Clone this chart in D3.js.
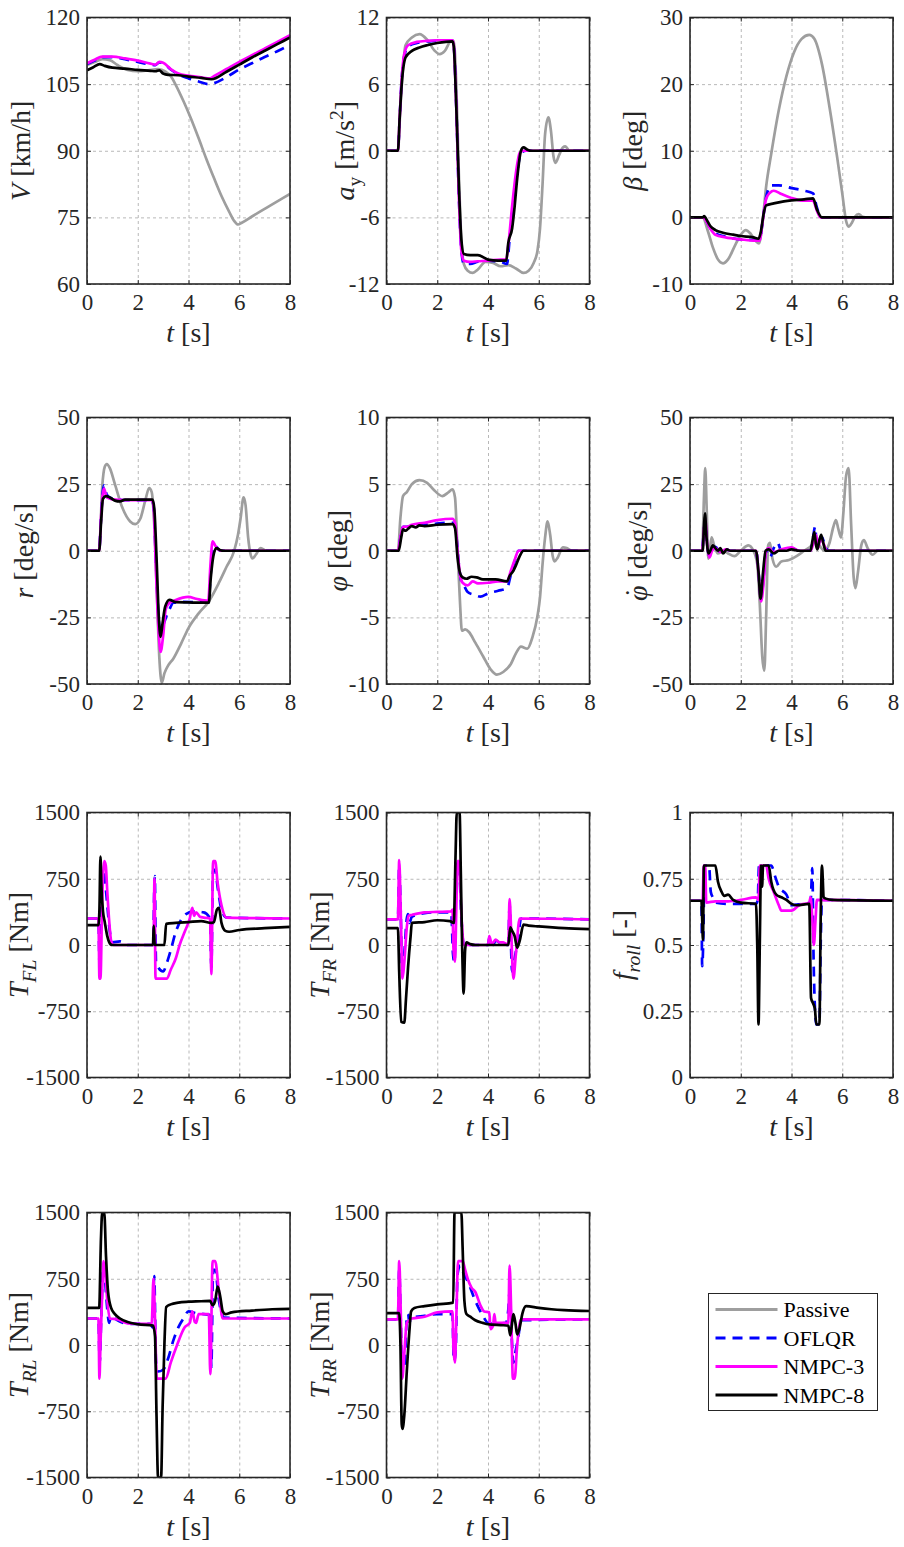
<!DOCTYPE html>
<html>
<head>
<meta charset="utf-8">
<script src="https://cdn.jsdelivr.net/npm/d3@7"></script>
<style>
body { margin: 0; background: #fff; }
svg { display: block; font-family: "Liberation Serif", "Times New Roman", serif; }
.grid line { stroke: #b8b8b8; stroke-dasharray: 3,3; stroke-width: 1; }
.grid path { display: none; }
.axis path { display: none; }
.axis line { stroke: #262626; stroke-width: 1; }
.axis text { font-size: 23px; fill: #262626; font-family: "Liberation Serif", serif; }
.line { fill: none; stroke-width: 2.7; stroke-linejoin: round; }
</style>
</head>
<body>
<div id="chart"></div>
<script>
// time axis
var tTicks = [0, 2, 4, 6, 8];

// V [km/h]
var vTicks = [60, 75, 90, 105, 120];
var vPassive = [[0,109.3],[0.3,110],[0.6,110.6],[0.9,110.4],[1.2,109.3],[1.6,108.2],[2.0,107.9],[2.4,108.1],[2.8,108.4],[3.1,107.8],[3.3,106.8],[3.5,104.8],[3.8,101.2],[4.1,97.2],[4.4,92.8],[4.7,88.2],[5.0,83.9],[5.3,79.8],[5.6,76.3],[5.8,74.2],[5.95,73.4],[6.1,73.8],[6.5,75.2],[7.0,76.9],[7.5,78.6],[8,80.3]];
var vOflqr = [[0,109.5],[0.3,110.3],[0.6,111.1],[1.0,111.1],[1.5,110.6],[2.0,110.0],[2.5,109.4],[2.7,109.3],[2.85,109.9],[3.0,109.7],[3.3,108.3],[3.6,107.2],[4.0,106.3],[4.4,105.6],[4.8,105.0],[5.0,105.2],[5.5,106.6],[6.0,108.3],[6.5,109.7],[7.0,111.1],[7.5,112.4],[8,113.8]];
var vNmpc3 = [[0,109.7],[0.3,110.5],[0.6,111.2],[1.0,111.2],[1.5,110.8],[2.0,110.3],[2.5,109.6],[2.7,109.4],[2.85,110.0],[3.0,109.8],[3.3,108.4],[3.6,107.4],[4.0,106.9],[4.5,106.5],[4.85,106.3],[5.0,106.8],[5.5,108.4],[6.0,110.0],[6.5,111.5],[7.0,113.0],[7.5,114.5],[8,116.0]];
var vNmpc8 = [[0,108.1],[0.25,108.8],[0.5,109.5],[0.7,109.1],[1.0,108.7],[1.5,108.5],[2.0,108.2],[2.5,108.0],[2.7,107.9],[2.85,108.1],[3.0,107.4],[3.2,107.1],[3.6,107.0],[4.0,106.7],[4.5,106.4],[4.9,106.1],[5.5,107.8],[6.0,109.4],[6.5,111.0],[7.0,112.5],[7.5,114.0],[8,115.5]];

// a_y [m/s^2]
var ayTicks = [-12, -6, 0, 6, 12];
var ayPassive = [[0,0],[0.45,0],[0.55,4],[0.65,7.5],[0.75,9.5],[1.0,10.2],[1.3,10.5],[1.6,10.0],[1.9,9.0],[2.1,8.7],[2.3,9.0],[2.55,9.9],[2.65,9.9],[2.75,6],[2.85,-2],[2.95,-8],[3.05,-10.2],[3.2,-10.8],[3.4,-11.0],[3.6,-10.7],[3.9,-10.0],[4.2,-10.1],[4.5,-10.4],[4.8,-10.3],[5.1,-10.6],[5.4,-11.0],[5.6,-10.8],[5.8,-10.1],[5.95,-9.0],[6.05,-7],[6.15,-3],[6.25,1.5],[6.38,3.0],[6.48,1.8],[6.58,-0.5],[6.66,-1.1],[6.8,-0.4],[6.95,0.3],[7.05,0.4],[7.2,0],[8,0]];
var ayOflqr = [[0,0],[0.45,0],[0.52,3],[0.6,6.5],[0.7,8.5],[0.85,9.4],[1.2,9.7],[1.6,9.85],[2.0,9.9],[2.6,9.9],[2.65,9.5],[2.75,4],[2.85,-4],[2.95,-9],[3.05,-10.2],[3.3,-10.2],[3.6,-10.0],[4.0,-9.9],[4.5,-10.0],[4.75,-10.2],[4.85,-8],[5.0,-5],[5.15,-2],[5.3,-0.2],[5.5,0],[8,0]];
var ayNmpc3 = [[0,0],[0.45,0],[0.52,3],[0.6,6.5],[0.7,8.7],[0.85,9.5],[1.2,9.8],[1.6,9.9],[2.0,9.95],[2.6,9.95],[2.65,9.5],[2.75,4],[2.85,-4],[2.95,-9],[3.05,-9.9],[3.3,-10.0],[3.6,-9.95],[4.0,-9.9],[4.5,-9.8],[4.72,-9.8],[4.8,-8.5],[4.95,-5],[5.1,-2],[5.25,-0.2],[5.4,0],[8,0]];
var ayNmpc8 = [[0,0],[0.45,0],[0.52,3],[0.6,6],[0.75,8.4],[1.0,9.0],[1.3,9.3],[1.6,9.5],[2.0,9.7],[2.6,9.85],[2.65,9.4],[2.75,4],[2.85,-3],[2.95,-8],[3.05,-9.3],[3.3,-9.4],[3.6,-9.4],[4.0,-9.8],[4.4,-9.9],[4.72,-9.9],[4.8,-8.3],[4.95,-7],[5.05,-5],[5.15,-2.5],[5.3,0],[5.4,0.3],[5.55,0.1],[5.7,0],[8,0]];

// beta [deg]
var betaTicks = [-10, 0, 10, 20, 30];
var betaPassive = [[0,0],[0.5,0],[0.7,-2],[0.9,-4.5],[1.1,-6.3],[1.3,-6.9],[1.5,-6.3],[1.8,-4.0],[2.0,-2.6],[2.2,-1.9],[2.4,-2.5],[2.6,-3.6],[2.72,-3.9],[2.85,-1],[3.0,4.6],[3.2,9.5],[3.5,16.1],[3.8,21.2],[4.1,24.8],[4.4,26.8],[4.7,27.4],[4.9,26.8],[5.2,23.0],[5.5,16.5],[5.8,9.0],[6.0,3.6],[6.15,-0.5],[6.25,-1.4],[6.38,-0.8],[6.5,0.1],[6.65,0.5],[6.8,0.1],[7.0,0],[8,0]];
var betaOflqr = [[0,0],[0.5,0],[0.6,-0.3],[0.8,-1.6],[1.0,-2.4],[1.4,-2.9],[2.0,-3.3],[2.6,-3.4],[2.75,-3.4],[2.85,-1],[3.0,3.0],[3.2,4.8],[3.5,4.8],[4.0,4.4],[4.5,4.0],[4.85,3.6],[5.0,1.5],[5.15,0],[8,0]];
var betaNmpc3 = [[0,0],[0.5,0],[0.6,-0.3],[0.8,-1.7],[1.0,-2.6],[1.4,-3.0],[2.0,-3.3],[2.6,-3.5],[2.75,-3.5],[2.85,-1],[3.0,2.8],[3.15,3.7],[3.3,4.0],[3.6,3.5],[4.0,2.9],[4.5,2.5],[4.85,2.5],[5.0,1.0],[5.15,0],[8,0]];
var betaNmpc8 = [[0,0],[0.5,0],[0.56,0.2],[0.65,-0.3],[0.8,-1.3],[1.0,-1.9],[1.3,-2.3],[1.7,-2.6],[2.0,-2.8],[2.5,-3.0],[2.7,-3.2],[2.8,-2.0],[2.9,0.5],[3.0,1.8],[3.3,2.1],[3.7,2.4],[4.0,2.55],[4.5,2.7],[4.85,2.85],[5.0,1.2],[5.2,0],[8,0]];

// r [deg/s]
var rTicks = [-50, -25, 0, 25, 50];
var rPassive = [[0,0],[0.48,0],[0.6,24],[0.7,31.5],[0.78,32.5],[0.9,31],[1.1,25],[1.4,16],[1.7,11],[1.9,10],[2.1,12],[2.3,19],[2.45,23.5],[2.55,22],[2.65,10],[2.75,-15],[2.85,-40],[2.95,-49.5],[3.05,-46],[3.2,-43],[3.4,-40.5],[3.7,-35],[4.0,-29],[4.4,-23.5],[4.8,-19],[5.2,-12],[5.5,-6],[5.8,0],[5.95,6],[6.05,12],[6.17,20],[6.25,17],[6.35,5],[6.45,-1.5],[6.52,-2.9],[6.65,-1.5],[6.85,1],[7.05,0],[8,0]];
var rOflqr = [[0,0],[0.48,0],[0.55,12],[0.62,22],[0.67,24.5],[0.78,21],[1.0,19.5],[1.5,19],[2.0,19],[2.55,19],[2.62,17],[2.72,-5],[2.82,-25],[2.9,-30],[3.0,-28],[3.15,-24],[3.25,-22],[3.4,-19.5],[3.8,-19.2],[4.3,-19.3],[4.78,-19.5],[4.88,-8],[4.97,1.5],[5.1,1.5],[5.2,0.3],[5.35,0],[8,0]];
var rNmpc3 = [[0,0],[0.48,0],[0.55,12],[0.62,21],[0.67,23.3],[0.78,20],[1.0,19.3],[1.5,19],[2.0,19],[2.55,19],[2.62,17],[2.72,-8],[2.82,-30],[2.9,-38],[3.0,-32],[3.1,-22],[3.2,-20],[3.5,-18.5],[4.0,-17.3],[4.3,-18],[4.78,-18.8],[4.86,-6],[4.95,3.5],[5.05,2],[5.2,0.3],[5.35,0],[8,0]];
var rNmpc8 = [[0,0],[0.48,0],[0.55,10],[0.63,19.5],[0.75,20.5],[0.9,20],[1.1,18.8],[1.3,18.5],[1.5,19.2],[2.0,19.2],[2.58,19.2],[2.65,16],[2.75,-5],[2.83,-25],[2.9,-32.3],[2.98,-27],[3.08,-21],[3.25,-18.4],[3.5,-19.3],[4.0,-19.4],[4.5,-19.5],[4.8,-19.5],[4.88,-10],[4.98,-2],[5.1,1],[5.25,0.2],[5.4,0],[8,0]];

// phi [deg]
var phiTicks = [-10, -5, 0, 5, 10];
var phiPassive = [[0,0],[0.45,0],[0.55,2.5],[0.65,4.1],[0.8,4.4],[1.0,5.0],[1.3,5.3],[1.6,5.1],[1.9,4.5],[2.2,4.1],[2.45,4.4],[2.6,4.6],[2.7,4.0],[2.8,0],[2.9,-4],[2.97,-6],[3.1,-5.9],[3.25,-6.1],[3.5,-6.9],[3.8,-7.9],[4.1,-8.9],[4.35,-9.3],[4.6,-9.1],[4.9,-8.5],[5.1,-7.7],[5.3,-7.2],[5.55,-7.35],[5.75,-6.5],[5.95,-4.9],[6.05,-3.5],[6.15,-1],[6.25,1],[6.35,2.2],[6.45,1.2],[6.55,-0.4],[6.62,-0.8],[6.75,-0.5],[6.95,0.25],[7.1,0.2],[7.3,0],[8,0]];
var phiOflqr = [[0,0],[0.45,0],[0.55,1.0],[0.65,1.8],[0.8,1.8],[1.2,1.9],[1.8,2.0],[2.3,2.1],[2.65,2.1],[2.75,1.2],[2.85,-1],[2.95,-2.3],[3.05,-2.6],[3.2,-3.1],[3.45,-3.3],[3.7,-3.45],[4.0,-3.2],[4.4,-3.0],[4.75,-2.8],[4.9,-1.8],[5.05,-0.8],[5.2,0],[8,0]];
var phiNmpc3 = [[0,0],[0.45,0],[0.55,1.0],[0.65,1.8],[0.8,1.8],[1.0,1.95],[1.5,2.1],[2.0,2.3],[2.6,2.4],[2.7,2.1],[2.8,0],[2.9,-1.8],[3.0,-2.4],[3.2,-2.6],[3.4,-2.3],[3.6,-2.45],[4.0,-2.4],[4.4,-2.3],[4.75,-2.3],[4.9,-1.5],[5.05,-0.7],[5.2,0],[8,0]];
var phiNmpc8 = [[0,0],[0.48,0],[0.58,1.0],[0.65,1.6],[0.75,1.5],[0.85,1.65],[1.0,1.85],[1.15,1.75],[1.3,1.9],[1.5,1.85],[2.0,1.95],[2.6,2.0],[2.7,1.7],[2.8,-0.5],[2.9,-1.7],[3.0,-2.0],[3.15,-2.1],[3.35,-1.95],[3.55,-2.0],[3.8,-2.15],[4.3,-2.15],[4.75,-2.3],[4.85,-1.9],[5.0,-1.5],[5.1,-1.1],[5.25,-0.4],[5.4,0],[8,0]];

// phi dot [deg/s]
var phidTicks = [-50, -25, 0, 25, 50];
var phidPassive = [[0,0],[0.48,0],[0.55,20],[0.6,31],[0.66,15],[0.72,-3],[0.78,0],[0.85,5],[0.95,2],[1.1,-1],[1.3,0],[1.5,-1],[1.75,-2],[2.0,0],[2.3,2],[2.5,0],[2.65,-5],[2.75,-20],[2.85,-40],[2.93,-45],[3.0,-25],[3.08,2],[3.15,3],[3.25,-3],[3.4,-6],[3.6,-4],[3.9,-3.5],[4.2,-2],[4.5,0],[4.8,2],[4.95,4],[5.1,2],[5.3,0],[5.5,3],[5.65,9],[5.75,11.5],[5.85,8],[5.95,5],[6.05,15],[6.15,28],[6.25,31],[6.35,10],[6.45,-10],[6.52,-14],[6.62,-8],[6.75,2],[6.85,4],[7.0,1],[7.2,-1.5],[7.4,0],[8,0]];
var phidOflqr = [[0,0],[0.48,0],[0.55,8],[0.6,11],[0.67,3],[0.75,-2],[0.85,0],[1.0,1.5],[1.2,-0.5],[1.4,0.5],[1.6,0],[2.6,0],[2.7,-8],[2.8,-18],[2.9,-10],[3.0,0],[3.15,-2.5],[3.3,1],[3.45,3],[3.6,0],[4.0,1],[4.3,0],[4.75,0],[4.85,5],[4.93,9],[5.0,2],[5.1,4],[5.2,5],[5.35,1],[5.5,0],[8,0]];
var phidNmpc3 = [[0,0],[0.48,0],[0.55,8],[0.6,12],[0.67,3],[0.77,-2.5],[0.87,0],[1.0,1],[1.2,-0.5],[1.4,0.5],[1.6,0],[2.6,0],[2.7,-8],[2.8,-19],[2.9,-12],[3.0,0],[3.1,1],[3.3,-0.5],[3.6,0.5],[4.0,1.3],[4.3,0],[4.75,0],[4.87,3],[4.97,6],[5.05,1],[5.15,5],[5.25,3],[5.4,0],[8,0]];
var phidNmpc8 = [[0,0],[0.5,0],[0.55,9],[0.59,14],[0.65,5],[0.73,-1],[0.8,0],[0.9,2],[1.0,1],[1.1,0],[1.2,1],[1.3,-1],[1.45,0.5],[1.6,0],[2.6,0],[2.7,-8],[2.78,-18],[2.88,-8],[2.98,0],[3.1,0.5],[3.3,-1],[3.5,0],[3.8,0],[4.0,0.5],[4.3,0],[4.75,0],[4.83,4],[4.9,7],[4.97,2],[5.02,0.5],[5.1,4],[5.17,6],[5.25,3],[5.35,0],[8,0]];

// wheel torques [Nm]
var torqueTicks = [-1500, -750, 0, 750, 1500];
var tflOflqr = [[0,300],[0.45,300],[0.5,-300],[0.55,300],[0.65,850],[0.72,700],[0.8,450],[0.9,150],[1.0,30],[1.3,40],[1.6,0],[2.6,0],[2.67,780],[2.72,-200],[2.8,-250],[3.0,-300],[3.15,-200],[3.3,-60],[3.5,150],[3.7,280],[3.9,350],[4.2,380],[4.6,370],[4.85,300],[4.9,-250],[4.97,850],[5.05,850],[5.15,650],[5.3,400],[5.5,310],[8,300]];
var tflNmpc3 = [[0,300],[0.45,300],[0.49,-380],[0.53,-380],[0.6,500],[0.68,950],[0.74,900],[0.8,600],[0.88,250],[0.95,50],[1.05,0],[2.62,0],[2.66,750],[2.7,-380],[3.15,-380],[3.3,-280],[3.5,-150],[3.65,0],[3.85,150],[4.05,300],[4.15,420],[4.22,330],[4.3,370],[4.45,320],[4.6,310],[4.85,300],[4.9,-330],[4.97,950],[5.05,950],[5.15,700],[5.3,450],[5.5,310],[8,300]];
var tflNmpc8 = [[0,225],[0.45,225],[0.49,400],[0.53,1000],[0.57,650],[0.63,380],[0.7,260],[0.8,100],[0.92,10],[1.0,0],[2.6,0],[2.63,220],[2.67,0],[3.05,0],[3.12,240],[3.5,250],[4.0,260],[4.5,270],[4.9,250],[5.0,260],[5.12,400],[5.2,420],[5.3,250],[5.45,160],[5.6,150],[6.0,170],[7.0,190],[8,205]];

var tfrOflqr = [[0,290],[0.45,290],[0.5,900],[0.55,500],[0.62,-300],[0.7,-100],[0.8,300],[0.85,350],[0.9,250],[1.0,320],[1.5,360],[2.0,370],[2.55,370],[2.62,-100],[2.68,-200],[2.75,800],[2.85,950],[2.95,300],[3.05,0],[4.0,0],[4.05,80],[4.2,0],[4.3,50],[4.5,20],[4.8,0],[4.85,450],[4.95,-300],[5.05,-150],[5.2,100],[5.3,300],[5.5,300],[8,290]];
var tfrNmpc3 = [[0,290],[0.45,290],[0.5,960],[0.56,400],[0.63,-380],[0.7,-200],[0.8,200],[0.87,330],[1.0,340],[1.5,370],[2.0,375],[2.55,380],[2.6,400],[2.64,-50],[2.7,-190],[2.75,400],[2.8,950],[2.86,950],[2.95,350],[3.05,0],[4.0,0],[4.05,100],[4.15,10],[4.3,60],[4.45,30],[4.6,30],[4.8,0],[4.85,520],[4.92,100],[5.0,-380],[5.1,-100],[5.25,300],[8,290]];
var tfrNmpc8 = [[0,190],[0.45,190],[0.5,-300],[0.58,-870],[0.7,-880],[0.77,-600],[0.85,-250],[0.95,100],[1.0,250],[1.5,260],[2.0,280],[2.5,270],[2.65,250],[2.72,1000],[2.77,1500],[2.88,1500],[2.93,800],[2.98,0],[3.04,-550],[3.1,-50],[3.15,30],[3.3,10],[3.5,0],[4.8,0],[4.88,200],[4.95,160],[5.05,100],[5.15,-30],[5.25,50],[5.4,230],[5.6,220],[6.0,210],[7.0,190],[8,180]];

var trlOflqr = [[0,300],[0.45,300],[0.5,-200],[0.56,300],[0.65,900],[0.72,700],[0.8,400],[0.87,250],[0.95,320],[1.2,280],[1.6,240],[2.5,240],[2.58,200],[2.65,780],[2.72,-200],[2.8,-300],[3.0,-280],[3.2,-150],[3.4,50],[3.6,200],[3.8,300],[4.0,380],[4.3,360],[4.6,350],[4.85,340],[4.9,-250],[4.97,850],[5.05,850],[5.2,500],[5.4,310],[8,300]];
var trlNmpc3 = [[0,300],[0.45,300],[0.49,-380],[0.53,0],[0.6,600],[0.65,950],[0.72,800],[0.8,500],[0.9,300],[1.2,290],[1.6,245],[2.0,240],[2.55,240],[2.62,750],[2.68,300],[2.75,-380],[3.1,-380],[3.3,-200],[3.55,0],[3.85,200],[4.05,250],[4.15,380],[4.25,260],[4.3,250],[4.4,350],[4.8,350],[4.86,-330],[4.95,950],[5.05,950],[5.2,600],[5.35,300],[8,300]];
var trlNmpc8 = [[0,420],[0.48,420],[0.55,1200],[0.6,1500],[0.68,1500],[0.75,1000],[0.83,600],[0.95,420],[1.1,350],[1.3,300],[1.6,260],[2.0,235],[2.6,220],[2.68,100],[2.74,-800],[2.8,-1500],[2.92,-1500],[2.98,-700],[3.05,0],[3.12,430],[3.3,460],[3.6,480],[4.0,490],[4.5,495],[4.85,500],[4.95,450],[5.05,500],[5.15,660],[5.25,550],[5.35,380],[5.45,350],[5.7,370],[6.5,390],[7.3,405],[8,410]];

var trrOflqr = [[0,290],[0.45,290],[0.5,850],[0.56,300],[0.62,-300],[0.72,-200],[0.8,300],[0.85,350],[0.9,260],[1.0,310],[1.5,330],[2.0,350],[2.6,350],[2.65,-180],[2.72,-100],[2.8,800],[2.9,900],[3.05,800],[3.2,720],[3.5,500],[3.8,330],[4.0,250],[4.3,240],[4.7,250],[4.8,400],[4.85,600],[4.95,0],[5.0,-200],[5.1,-50],[5.2,100],[5.3,280],[8,290]];
var trrNmpc3 = [[0,290],[0.45,290],[0.5,950],[0.56,400],[0.62,-380],[0.7,-100],[0.8,250],[0.9,280],[1.0,300],[1.5,320],[2.0,370],[2.6,380],[2.64,-50],[2.7,-200],[2.76,400],[2.82,950],[3.0,950],[3.1,850],[3.2,750],[3.35,650],[3.5,600],[3.7,450],[3.85,380],[4.05,370],[4.1,180],[4.2,220],[4.25,350],[4.3,250],[4.5,250],[4.8,250],[4.85,900],[4.92,300],[4.98,-380],[5.05,-380],[5.15,0],[5.3,290],[8,290]];
var trrNmpc8 = [[0,360],[0.5,360],[0.55,0],[0.6,-900],[0.63,-950],[0.7,-800],[0.8,-300],[0.9,150],[0.97,380],[1.1,420],[1.5,440],[2.0,460],[2.63,480],[2.68,1500],[2.95,1500],[3.0,1100],[3.07,500],[3.15,350],[3.3,320],[3.5,280],[3.8,250],[4.0,235],[4.5,225],[4.8,220],[4.88,110],[4.95,250],[5.0,350],[5.08,250],[5.15,120],[5.25,200],[5.35,350],[5.5,440],[6.0,420],[6.5,405],[7.0,395],[8,385]];

// f_roll [-]
var frTicks = [0, 0.25, 0.5, 0.75, 1];
var frOflqr = [[0,0.667],[0.45,0.667],[0.48,0.42],[0.53,0.55],[0.57,0.8],[0.75,0.8],[0.82,0.7],[0.9,0.68],[1.0,0.66],[1.5,0.655],[2.0,0.655],[2.6,0.655],[2.67,0.67],[2.72,0.8],[3.2,0.8],[3.35,0.76],[3.5,0.72],[3.8,0.69],[4.0,0.65],[4.4,0.655],[4.75,0.66],[4.82,0.79],[4.87,0.45],[4.93,0.25],[4.98,0.2],[5.1,0.2],[5.15,0.5],[5.2,0.67],[8,0.667]];
var frNmpc3 = [[0,0.667],[0.5,0.667],[0.54,0.8],[0.6,0.8],[0.64,0.66],[1.0,0.665],[1.5,0.665],[2.0,0.67],[2.6,0.68],[2.7,0.67],[2.75,0.8],[3.0,0.8],[3.1,0.75],[3.3,0.7],[3.5,0.65],[3.6,0.63],[4.0,0.63],[4.3,0.65],[4.7,0.66],[4.75,0.68],[4.82,0.6],[4.88,0.5],[4.95,0.6],[5.0,0.67],[8,0.667]];
var frNmpc8 = [[0,0.667],[0.45,0.667],[0.48,0.6],[0.51,0.52],[0.55,0.8],[1.0,0.8],[1.1,0.74],[1.25,0.7],[1.35,0.685],[1.5,0.69],[1.7,0.67],[2.0,0.66],[2.6,0.655],[2.65,0.5],[2.7,0.2],[2.75,0.5],[2.8,0.8],[2.84,0.72],[2.88,0.8],[3.1,0.8],[3.2,0.74],[3.4,0.69],[3.6,0.68],[3.8,0.67],[4.0,0.655],[4.2,0.65],[4.7,0.655],[4.77,0.3],[4.85,0.28],[4.92,0.26],[4.98,0.2],[5.1,0.2],[5.15,0.6],[5.2,0.8],[5.27,0.68],[5.35,0.675],[5.6,0.67],[8,0.667]];

var seriesNames = ["Passive", "OFLQR", "NMPC-3", "NMPC-8"];
var seriesColors = ["#9e9e9e", "#0000ff", "#ff00ff", "#000000"];
var seriesDash = [null, "10,7", null, null];

var colLeft = [87, 386.5, 690],
    rowTop = [17.5, 417.5, 812.5, 1212.5],
    rowH = [266.5, 266.5, 265, 265],
    pw = 203;

// label pieces: [text, kind]  kind: "" roman, "i" italic, "sub", "subi", "sup", "dot"
var panels = [
  {row:0, col:0, dom:[60,120], ticks:vTicks, data:[vPassive,vOflqr,vNmpc3,vNmpc8], off:57, label:[["V","i"],[" [km/h]",""]]},
  {row:0, col:1, dom:[-12,12], ticks:ayTicks, data:[ayPassive,ayOflqr,ayNmpc3,ayNmpc8], off:33, label:[["a","i"],["y","sub"],[" [m/s",""],["2","sup"],["]",""]]},
  {row:0, col:2, dom:[-10,30], ticks:betaTicks, data:[betaPassive,betaOflqr,betaNmpc3,betaNmpc8], off:48, label:[["\u03b2","i"],[" [deg]",""]]},
  {row:1, col:0, dom:[-50,50], ticks:rTicks, data:[rPassive,rOflqr,rNmpc3,rNmpc8], off:54, label:[["r","i"],[" [deg/s]",""]]},
  {row:1, col:1, dom:[-10,10], ticks:phiTicks, data:[phiPassive,phiOflqr,phiNmpc3,phiNmpc8], off:40, label:[["\u03c6","i"],[" [deg]",""]]},
  {row:1, col:2, dom:[-50,50], ticks:phidTicks, data:[phidPassive,phidOflqr,phidNmpc3,phidNmpc8], off:43, label:[["\u03c6","i"],["\u02d9","dot"],[" [deg/s]",""]]},
  {row:2, col:0, dom:[-1500,1500], ticks:torqueTicks, data:[null,tflOflqr,tflNmpc3,tflNmpc8], off:59, label:[["T","i"],["FL","subi"],[" [Nm]",""]]},
  {row:2, col:1, dom:[-1500,1500], ticks:torqueTicks, data:[null,tfrOflqr,tfrNmpc3,tfrNmpc8], off:58, label:[["T","i"],["FR","subi"],[" [Nm]",""]]},
  {row:2, col:2, dom:[0,1], ticks:frTicks, data:[null,frOflqr,frNmpc3,frNmpc8], off:58, label:[["f","i"],["roll","subi"],[" [-]",""]]},
  {row:3, col:0, dom:[-1500,1500], ticks:torqueTicks, data:[null,trlOflqr,trlNmpc3,trlNmpc8], off:59, label:[["T","i"],["RL","subi"],[" [Nm]",""]]},
  {row:3, col:1, dom:[-1500,1500], ticks:torqueTicks, data:[null,trrOflqr,trrNmpc3,trrNmpc8], off:58, label:[["T","i"],["RR","subi"],[" [Nm]",""]]}
];

var svg = d3.select("#chart").append("svg")
    .attr("width", 904)
    .attr("height", 1547);

function addLabel(textSel, pieces, size) {
  var shift = 0, back = 0;
  pieces.forEach(function(p) {
    var ts = textSel.append("tspan").text(p[0]);
    var kind = p[1];
    var target = 0;
    if (back) { ts.attr("dx", back); back = 0; }
    if (kind === "i") ts.style("font-style", "italic");
    if (kind === "sub" || kind === "subi") {
      ts.style("font-size", (size * 0.7) + "px");
      if (kind === "subi") ts.style("font-style", "italic");
      target = size * 0.28;
    }
    if (kind === "sup") {
      ts.style("font-size", (size * 0.7) + "px");
      target = -size * 0.38;
    }
    if (kind === "dot") {
      // dot accent placed over the preceding glyph
      ts.attr("dx", -size * 0.43);
      target = -size * 0.12;
      back = size * 0.1;
    }
    ts.attr("dy", target - shift);
    shift = target;
  });
}

panels.forEach(function(p, i) {
  var left = colLeft[p.col], top = rowTop[p.row], ph = rowH[p.row];

  var x = d3.scaleLinear().domain([0, 8]).range([0, pw]);
  var y = d3.scaleLinear().domain(p.dom).range([ph, 0]);

  var g = svg.append("g").attr("transform", "translate(" + left + "," + top + ")");

  g.append("defs").append("clipPath")
      .attr("id", "clip" + i)
    .append("rect")
      .attr("width", pw)
      .attr("height", ph);

  // grid
  g.append("g")
      .attr("class", "grid")
      .attr("transform", "translate(0," + ph + ")")
      .call(d3.axisBottom(x).tickValues(tTicks).tickSize(-ph).tickFormat(""));
  g.append("g")
      .attr("class", "grid")
      .call(d3.axisLeft(y).tickValues(p.ticks).tickSize(-pw).tickFormat(""));

  var line = d3.line()
      .curve(d3.curveMonotoneX)
      .x(function(d) { return x(d[0]); })
      .y(function(d) { return y(d[1]); });

  p.data.forEach(function(s, k) {
    if (!s) return;
    g.append("path")
        .attr("class", "line")
        .attr("d", line(s))
        .attr("clip-path", "url(#clip" + i + ")")
        .style("stroke", seriesColors[k])
        .style("stroke-dasharray", seriesDash[k]);
  });

  // axes with inward ticks
  g.append("g")
      .attr("class", "axis")
      .attr("transform", "translate(0," + ph + ")")
      .call(d3.axisBottom(x).tickValues(tTicks).tickSizeInner(-4).tickSizeOuter(0).tickPadding(10)
        .tickFormat(function(d) { return String(d); }));
  g.append("g")
      .attr("class", "axis")
      .call(d3.axisTop(x).tickValues(tTicks).tickSizeInner(-4).tickSizeOuter(0).tickFormat(""));
  g.append("g")
      .attr("class", "axis")
      .call(d3.axisLeft(y).tickValues(p.ticks).tickSizeInner(-4).tickSizeOuter(0).tickPadding(7)
        .tickFormat(function(d) { return String(d); }));
  g.append("g")
      .attr("class", "axis")
      .attr("transform", "translate(" + pw + ",0)")
      .call(d3.axisRight(y).tickValues(p.ticks).tickSizeInner(-4).tickSizeOuter(0).tickFormat(""));

  g.append("rect")
      .attr("width", pw)
      .attr("height", ph)
      .style("fill", "none")
      .style("stroke", "#262626")
      .style("stroke-width", 1.6);

  // y label
  var ly = ph / 2, lx = -p.off;
  var yl = g.append("text")
      .attr("x", lx)
      .attr("y", ly)
      .attr("transform", "rotate(-90," + lx + "," + ly + ")")
      .attr("text-anchor", "middle")
      .style("font-size", "28px")
      .style("fill", "#262626");
  addLabel(yl, p.label, 28);

  // x label
  var xl = g.append("text")
      .attr("x", pw / 2)
      .attr("y", ph + 58)
      .attr("text-anchor", "middle")
      .style("font-size", "28px")
      .style("fill", "#262626");
  addLabel(xl, [["t","i"],[" [s]",""]], 28);
});

// legend
var legend = svg.append("g").attr("transform", "translate(708.5,1293.5)");
legend.append("rect")
    .attr("width", 169)
    .attr("height", 117)
    .style("fill", "#fff")
    .style("stroke", "#262626")
    .style("stroke-width", 1);

seriesNames.forEach(function(name, k) {
  var yy = 16 + k * 28.5;
  legend.append("line")
      .attr("x1", 7).attr("x2", 69)
      .attr("y1", yy).attr("y2", yy)
      .style("stroke", seriesColors[k])
      .style("stroke-width", 3)
      .style("stroke-dasharray", seriesDash[k]);
  legend.append("text")
      .attr("x", 75)
      .attr("y", yy)
      .attr("dy", "0.35em")
      .style("font-size", "22px")
      .style("fill", "#000")
      .text(name);
});
</script>
</body>
</html>
